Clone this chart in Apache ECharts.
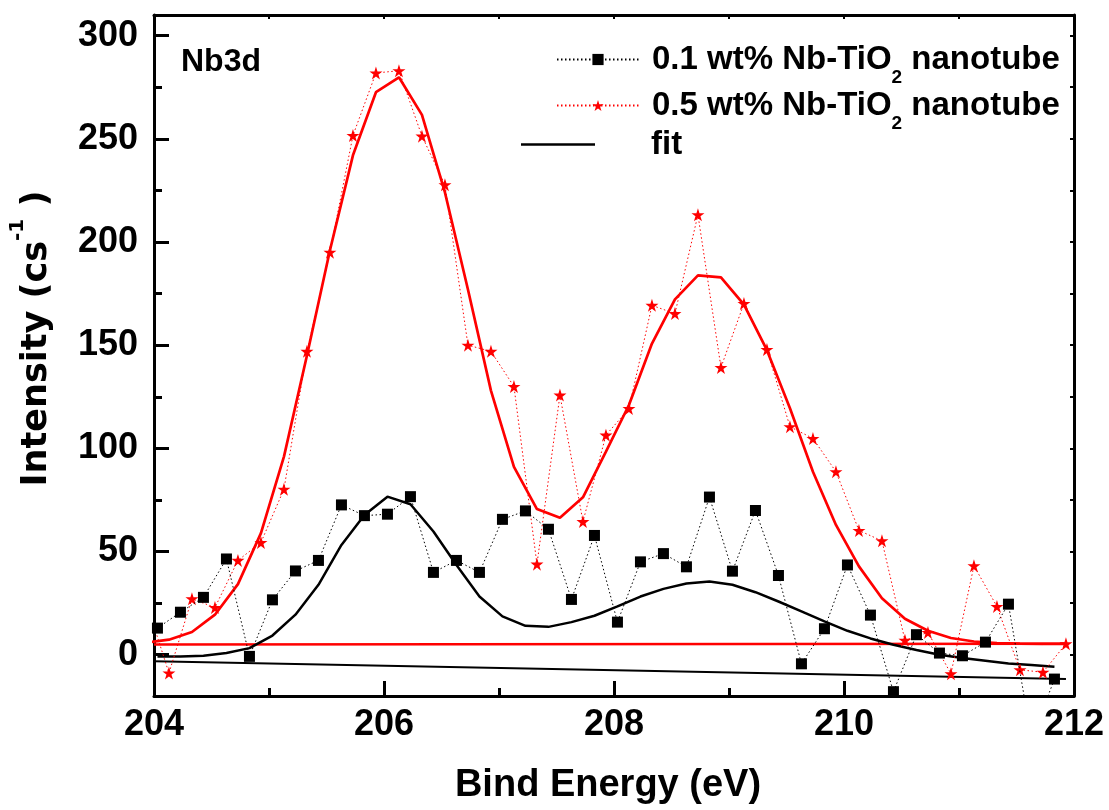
<!DOCTYPE html>
<html>
<head>
<meta charset="utf-8">
<script src="https://cdn.jsdelivr.net/npm/echarts@6/dist/echarts.min.js"></script>
<style>
html,body{margin:0;padding:0;background:#fff;}
#chart{width:1109px;height:810px;}
</style>
</head>
<body>
<div id="chart"></div>
<script>
// ---- data ----
const energyBlack = [204.03,204.23,204.43,204.63,204.83,205.03,205.23,205.43,205.63,205.83,206.03,206.23,206.43,206.63,206.83,207.03,207.23,207.43,207.63,207.83,208.03,208.23,208.43,208.63,208.83,209.03,209.23,209.43,209.63,209.83,210.03,210.23,210.43,210.63,210.83,211.03,211.23,211.43,211.63,211.83];
const intensity01 = [12.9,20.6,27.8,46.4,-0.8,26.6,40.6,45.7,72.6,67.4,68.1,76.6,39.9,45.7,39.9,65.6,69.7,60.8,26.8,57.8,15.8,45,49,42.6,76.4,40.5,69.9,38.4,-4.4,12.6,43.5,19.2,-17.9,9.7,0.8,-0.5,6.1,24.5,-41,-11.8];
const fit01 = [-0.8,-0.8,-0.5,0.8,3.2,9.3,19.4,33.9,53.2,67.7,76.6,72.9,59.7,43.5,28.2,18.6,14,13.5,15.8,18.9,23.4,28.2,31.9,34.5,35.5,33.9,30.3,25.8,21,16.2,11.6,7.9,4.8,2.3,0,-1.6,-2.9,-4.2,-5,-5.8];

const energyRed = [203.93,204.13,204.33,204.53,204.73,204.93,205.13,205.33,205.53,205.73,205.93,206.13,206.33,206.53,206.73,206.93,207.13,207.33,207.53,207.73,207.93,208.13,208.33,208.53,208.73,208.93,209.13,209.33,209.53,209.73,209.93,210.13,210.33,210.53,210.73,210.93,211.13,211.33,211.53,211.73,211.93];
const intensity05 = [26,-8.9,27.1,22.9,45.7,54.4,80.2,147,195,251.6,281.9,283,251.3,227.7,150,147,130,43.9,125.8,64.5,106.4,119.3,169.3,165.3,213.2,139.2,170.2,147.9,110.5,104.8,88.7,60.2,55.2,7.0,10.8,-9.2,43.1,23.4,-7.3,-8.5,5.3];
const fit05 = [5.8,7.3,11,19.4,34.2,58.9,96,145,196,242,272.6,279.8,261.6,224,177,128,91,70.6,66.4,76.3,98.4,121,150.8,172.2,183.8,182.9,169.7,147.6,119.4,88.7,62.9,42.8,27.4,17.4,11.6,8.1,6.4,5.6,5.4,5.3,5.3];

const baseline01X = [204.0, 211.93];
const baseline01Y = [-3.2, -11.8];
const baseline05X = [204.0, 211.93];
const baseline05Y = [4.9, 5.3];

const yMajorTicks = [0,50,100,150,200,250,300];
const yMinorTicks = [25,75,125,175,225,275];
const yRightTicks = [0,25,50,75,100,125,150,175,200,225,250,275,300];

const name01 = '0.1 wt% Nb-TiO2 nanotube';
const name05 = '0.5 wt% Nb-TiO2 nanotube';
const nameFit = 'fit';

// ---- helpers ----
const zip = (xs, ys) => xs.map((x, i) => [x, ys[i]]);
const FONT = "'Liberation Sans', Arial, Helvetica, sans-serif";
const WIDE = "'DejaVu Sans', 'Liberation Sans', Arial, sans-serif";
const STAR = 'path://M50,0 L61.2,34.5 L97.6,34.5 L68.2,55.9 L79.4,90.5 L50,69.1 L20.6,90.5 L31.8,55.9 L2.4,34.5 L38.8,34.5 Z';

const legendRich = {
  p: {fontSize: 33, fontWeight: 'bold', fontFamily: FONT, color: '#000', padding: [0, 0, 0, 8], lineHeight: 36},
  t: {fontSize: 33, fontWeight: 'bold', fontFamily: FONT, color: '#000', lineHeight: 36},
  sub: {fontSize: 19, fontWeight: 'bold', fontFamily: FONT, color: '#000', lineHeight: 19, padding: [36, 0, 0, 0]},
  f: {fontSize: 33, fontWeight: 'bold', fontFamily: FONT, color: '#000', padding: [0, 0, 0, 51], lineHeight: 36}
};
function legendFmt(name) {
  if (name === nameFit) return '{f|fit}';
  const parts = name.split('TiO2');
  return '{p|' + parts[0] + 'TiO}{sub|2}{t|' + parts[1] + '}';
}

const chart = echarts.init(document.getElementById('chart'), null, {renderer: 'canvas'});
const option = {
  animation: false,
  backgroundColor: '#fff',
  title: {
    text: 'Nb3d', left: 181, top: 46, padding: 0,
    textStyle: {fontSize: 32, fontWeight: 'bold', fontFamily: FONT, color: '#000'}
  },
  grid: {left: 151, right: 35, top: 15, bottom: 112, containLabel: false},
  legend: [
    {data: [name01], left: 556, top: 32, padding: 0, itemWidth: 82, itemHeight: 14,
     formatter: legendFmt, textStyle: {rich: legendRich}, selectedMode: false},
    {data: [name05], left: 556, top: 78, padding: 0, itemWidth: 82, itemHeight: 14,
     formatter: legendFmt, textStyle: {rich: legendRich}, selectedMode: false},
    {data: [{name: nameFit, icon: 'rect'}], left: 521, top: 128, padding: 0, itemWidth: 74, itemHeight: 2.5,
     formatter: legendFmt, textStyle: {rich: legendRich}, selectedMode: false}
  ],
  xAxis: [
    {
      type: 'value', min: 204, max: 212, interval: 2, position: 'bottom',
      name: 'Bind Energy (eV)', nameLocation: 'middle', nameGap: 71,
      nameTextStyle: {fontSize: 38, fontWeight: 'bold', fontFamily: FONT, color: '#000', padding: [0, 12, 0, 0]},
      axisLine: {show: true, onZero: false, lineStyle: {color: '#000', width: 3}},
      axisTick: {show: true, inside: true, length: 15, lineStyle: {color: '#000', width: 3}},
      minorTick: {show: true, splitNumber: 2, length: 8, lineStyle: {color: '#000', width: 3}},
      axisLabel: {show: true, margin: 11, fontSize: 36, fontWeight: 'bold', fontFamily: FONT, color: '#000'},
      splitLine: {show: false}
    },
    {
      type: 'value', min: 204, max: 212, interval: 1, position: 'top',
      axisLine: {show: true, onZero: false, lineStyle: {color: '#000', width: 3}},
      axisTick: {show: true, inside: true, length: 4, lineStyle: {color: '#000', width: 2}},
      axisLabel: {show: false}, splitLine: {show: false}
    }
  ],
  yAxis: [
    {
      type: 'value', min: -20, max: 310, position: 'left',
      name: '{t|Intensity (cs}{sup|-1}{t| )}', nameLocation: 'middle', nameGap: 97,
      nameTextStyle: {
        color: '#000',
        padding: [0, 0, 0, 34],
        rich: {
          t: {fontSize: 35, fontWeight: 'bold', fontFamily: WIDE, color: '#000', lineHeight: 40},
          sup: {fontSize: 20, fontWeight: 'bold', fontFamily: WIDE, color: '#000', lineHeight: 20, padding: [0, 0, 38, 0]}
        }
      },
      axisLine: {show: true, onZero: false, lineStyle: {color: '#000', width: 3}},
      axisTick: {show: true, inside: true, length: 15, customValues: yMajorTicks, lineStyle: {color: '#000', width: 3}},
      axisLabel: {show: true, customValues: yMajorTicks, margin: 16, fontSize: 36, fontWeight: 'bold', fontFamily: FONT, color: '#000'},
      splitLine: {show: false}
    },
    {
      type: 'value', min: -20, max: 310, position: 'left',
      axisLine: {show: false},
      axisTick: {show: true, inside: true, length: 8, customValues: yMinorTicks, lineStyle: {color: '#000', width: 3}},
      axisLabel: {show: false}, splitLine: {show: false}
    },
    {
      type: 'value', min: -20, max: 310, position: 'right',
      axisLine: {show: true, onZero: false, lineStyle: {color: '#000', width: 3}},
      axisTick: {show: true, inside: true, length: 4, customValues: yRightTicks, lineStyle: {color: '#000', width: 2}},
      axisLabel: {show: false}, splitLine: {show: false}
    }
  ],
  series: [
    {
      name: 'baseline 0.1', type: 'line', data: zip(baseline01X, baseline01Y), symbol: 'none', silent: true, z: 2,
      lineStyle: {color: '#000', width: 2}, itemStyle: {color: '#000'}
    },
    {
      name: 'baseline 0.5', type: 'line', data: zip(baseline05X, baseline05Y), symbol: 'none', silent: true, z: 2,
      lineStyle: {color: '#ff0000', width: 2.5}, itemStyle: {color: '#ff0000'}
    },
    {
      name: nameFit, type: 'line', data: zip(energyBlack, fit01), symbol: 'none', z: 3, clip: true,
      lineStyle: {color: '#000', width: 2.5}, itemStyle: {color: '#000'}
    },
    {
      name: 'fit 0.5', type: 'line', data: zip(energyRed, fit05), symbol: 'none', z: 3, clip: true,
      lineStyle: {color: '#ff0000', width: 2.7}, itemStyle: {color: '#ff0000'}
    },
    {
      name: name05, type: 'line', data: zip(energyRed, intensity05), z: 4, clip: true,
      symbol: STAR, symbolSize: 13, showAllSymbol: true,
      itemStyle: {color: '#ff0000'},
      lineStyle: {color: '#ff0000', width: 1, type: [1.5, 2.5]}
    },
    {
      name: name01, type: 'line', data: zip(energyBlack, intensity01), z: 5, clip: true,
      symbol: 'rect', symbolSize: 11, showAllSymbol: true,
      itemStyle: {color: '#000'},
      lineStyle: {color: '#000', width: 1, type: [1.5, 2.5]}
    }
  ]
};
chart.setOption(option);
</script>
</body>
</html>
